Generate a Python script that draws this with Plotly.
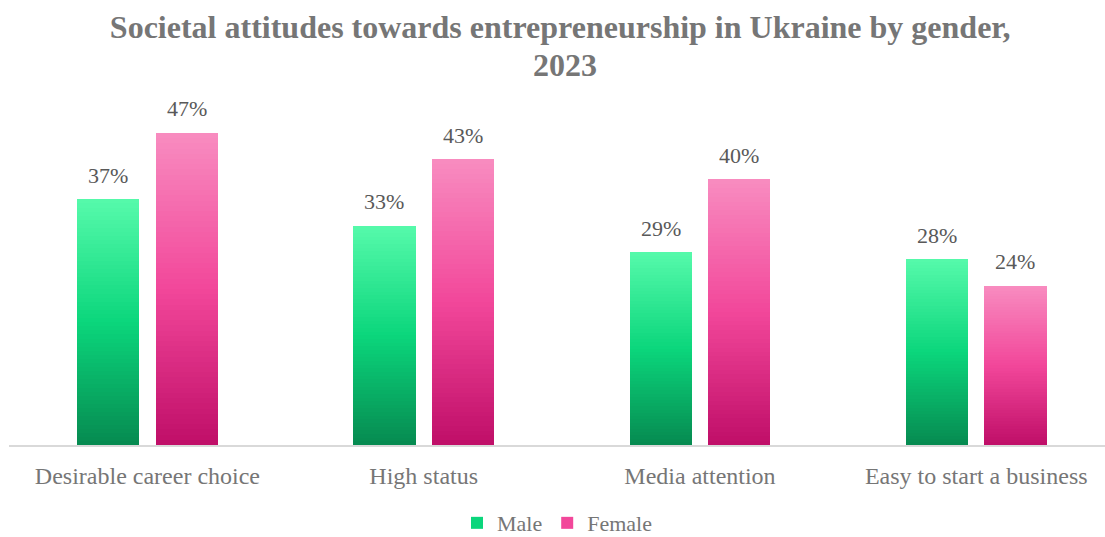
import plotly.graph_objects as go

# Chart data
categories = ["Desirable career choice", "High status", "Media attention", "Easy to start a business"]
male = [37, 33, 29, 28]
female = [47, 43, 40, 24]
series_names = ["Male", "Female"]
title_lines = ["Societal attitudes towards entrepreneurship in Ukraine by gender,", "2023"]

# Vertical gradient stops (bottom -> middle -> top) for each series
male_stops = [(6, 138, 80), (11, 214, 124), (86, 250, 171)]
female_stops = [(191, 14, 104), (242, 71, 154), (248, 140, 192)]

N_SEG = 60
BAR_W = 0.225
GROUP_OFF = 0.142
SERIF = "Liberation Serif, Times New Roman, serif"
TITLE_FONT = dict(family=SERIF, size=32, color="#767676")


def lerp_color(stops, t):
    if t <= 0.5:
        a, b, u = stops[0], stops[1], t / 0.5
    else:
        a, b, u = stops[1], stops[2], (t - 0.5) / 0.5
    c = [round(a[k] + (b[k] - a[k]) * u) for k in range(3)]
    return f"rgb({c[0]},{c[1]},{c[2]})"


def gradient_bar(values, stops, offset):
    xs, ys, bases, cols = [], [], [], []
    for i in range(N_SEG):
        t = (i + 0.5) / N_SEG
        for cat, v in zip(categories, values):
            seg = v / 100 / N_SEG
            xs.append(cat)
            ys.append(seg * 1.02 if i < N_SEG - 1 else seg)
            bases.append(seg * i)
            cols.append(lerp_color(stops, t))
    return go.Bar(
        x=xs, y=ys, base=bases,
        width=BAR_W, offset=offset,
        marker=dict(color=cols, line=dict(width=0)),
        showlegend=False, hoverinfo="skip",
    )


fig = go.Figure()
fig.add_trace(gradient_bar(male, male_stops, -GROUP_OFF - BAR_W / 2))
fig.add_trace(gradient_bar(female, female_stops, GROUP_OFF - BAR_W / 2))

# Legend entries
for name, stops in zip(series_names, [male_stops, female_stops]):
    fig.add_trace(go.Bar(
        x=[categories[0]], y=[None], name=name,
        marker=dict(color=lerp_color(stops, 0.5), line=dict(width=0)),
        showlegend=True,
    ))

# Value labels above the bars
annotations = []
for idx, (m, f) in enumerate(zip(male, female)):
    for v, dx in ((m, -GROUP_OFF), (f, GROUP_OFF)):
        annotations.append(dict(
            x=idx + dx, y=v / 100, xref="x", yref="y",
            text=f"{v}%", showarrow=False, yshift=24,
            font=dict(family=SERIF, size=22, color="#595959"),
        ))

# Second title line, set tighter than the default line spacing
annotations.append(dict(
    x=0.507, y=1.146, xref="paper", yref="paper",
    xanchor="center", yanchor="middle", showarrow=False,
    text=f"<b>{title_lines[1]}</b>", font=TITLE_FONT,
))

fig.update_layout(
    width=1105, height=537,
    margin=dict(l=9, r=0, t=113, b=92, autoexpand=False),
    paper_bgcolor="white", plot_bgcolor="white",
    barmode="overlay", bargap=0,
    title=dict(
        text=f"<b>{title_lines[0]}</b>",
        x=0.507, xanchor="center", y=0.95, yanchor="middle", yref="container",
        font=TITLE_FONT,
    ),
    xaxis=dict(
        type="category", categoryorder="array", categoryarray=categories,
        range=[-0.501, 3.466],
        showline=True, linecolor="#d9d9d9", linewidth=2,
        showgrid=False, zeroline=False,
        ticks="outside", ticklen=8, tickcolor="rgba(0,0,0,0)",
        tickfont=dict(family=SERIF, size=24, color="#767676"),
    ),
    yaxis=dict(range=[0, 0.5], visible=False, showgrid=False, zeroline=False),
    legend=dict(
        orientation="h", x=0.5, xanchor="center",
        y=0.026, yanchor="middle", yref="container",
        font=dict(family=SERIF, size=22, color="#767676"),
        itemwidth=30, itemsizing="constant",
    ),
    annotations=annotations,
)

fig.write_html("out.html")
